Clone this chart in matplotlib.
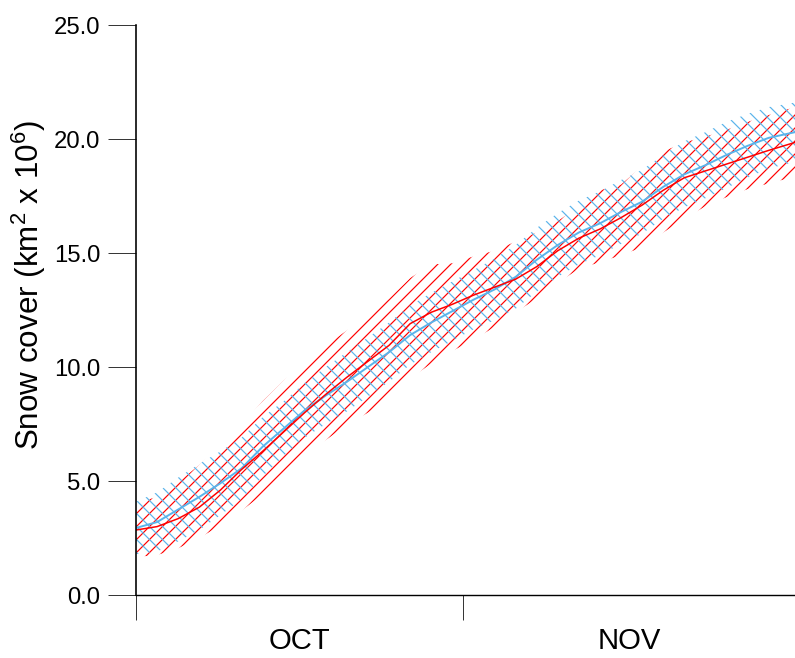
import matplotlib
matplotlib.use("Agg")
import matplotlib.pyplot as plt
import numpy as np

# ---- data ----
days = [0, 2, 4, 6, 8, 10, 12, 14, 16, 18, 20, 22, 24, 26, 28, 30,
        32, 34, 36, 38, 40, 42, 44, 46, 48, 50, 52, 54, 56, 58, 60, 62.5]

red_mean = [2.85, 3.0, 3.35, 3.85, 4.6, 5.5, 6.3, 7.15, 8.0, 8.8, 9.55, 10.25,
            10.95, 11.9, 12.4, 12.75, 13.15, 13.5, 13.85, 14.4, 15.1, 15.65,
            16.05, 16.55, 17.1, 17.75, 18.3, 18.6, 18.9, 19.2, 19.5, 19.85]
red_high = [4.04, 4.3, 4.95, 5.7, 6.55, 7.45, 8.5, 9.4, 10.2, 10.95, 11.6, 12.3,
            13.0, 13.9, 14.5, 14.55, 14.85, 15.1, 15.5, 15.9, 16.4, 17.05,
            17.75, 18.0, 18.8, 19.45, 19.85, 20.1, 20.4, 20.75, 21.05, 21.4]
red_low = [1.67, 1.75, 2.05, 2.5, 3.05, 3.7, 4.4, 5.3, 6.15, 6.8, 7.45, 8.0,
           8.6, 9.5, 10.15, 10.7, 11.2, 11.75, 12.4, 13.0, 13.7, 14.3,
           14.6, 14.9, 15.25, 15.9, 16.5, 17.05, 17.45, 17.8, 18.05, 18.35]

blue_mean = [2.94, 3.2, 3.75, 4.3, 4.9, 5.55, 6.5, 7.3, 8.1, 8.75, 9.35, 10.0,
             10.65, 11.4, 11.95, 12.45, 12.95, 13.4, 13.95, 14.7, 15.35, 15.9,
             16.3, 16.8, 17.25, 17.9, 18.45, 18.85, 19.3, 19.7, 20.05, 20.3]
blue_sd = [1.15, 1.3, 1.4, 1.45, 1.4, 1.35, 1.3, 1.2, 1.2, 1.25, 1.3, 1.3,
           1.3, 1.3, 1.3, 1.3, 1.3, 1.35, 1.4, 1.4, 1.4, 1.4, 1.4, 1.4,
           1.4, 1.4, 1.45, 1.45, 1.45, 1.4, 1.35, 1.3]

month_labels = ["OCT", "NOV"]
month_centers = [15.5, 46.8]
month_starts = [0, 31]
y_ticks = [0, 5, 10, 15, 20, 25]

RED = "#FF0000"
BLUE = "#5AB4EB"

DPI = 78
W, H = 795, 658
plt.rcParams["font.family"] = ["Liberation Sans", "DejaVu Sans"]
plt.rcParams["mathtext.fontset"] = "custom"
plt.rcParams["mathtext.rm"] = "Liberation Sans"
plt.rcParams["mathtext.it"] = "Liberation Sans"
plt.rcParams["hatch.linewidth"] = 1.1

fig = plt.figure(figsize=(W / DPI, H / DPI), dpi=DPI)
ax = fig.add_axes([136 / W, 63 / H, (W - 136) / W, 570 / H])

d = np.array(days)
bm = np.array(blue_mean)
bs = np.array(blue_sd)

ax.fill_between(d, red_low, red_high, facecolor="none", edgecolor=RED,
                hatch="//", linewidth=0, zorder=1)
ax.fill_between(d, bm - bs, bm + bs, facecolor="none", edgecolor=BLUE,
                hatch="\\\\", linewidth=0, zorder=1.5)
ax.plot(d, bm, color=BLUE, lw=1.8, zorder=2)
ax.plot(d, red_mean, color=RED, lw=1.4, zorder=2.5)

ax.set_xlim(0, 62.5)
ax.set_ylim(0, 25)

ax.spines["top"].set_visible(False)
ax.spines["right"].set_visible(False)
ax.spines["left"].set_linewidth(1.5)
ax.spines["bottom"].set_linewidth(1.3)

ax.set_yticks(y_ticks)
ax.set_yticklabels([f"{v:.1f}" for v in y_ticks])
ax.tick_params(axis="y", direction="out", length=28 * 72 / DPI, width=0.9,
               color="#333333", pad=8 * 72 / DPI, labelsize=22)

ax.set_xticks(month_starts)
ax.set_xticklabels([])
ax.set_xticks(month_centers, minor=True)
ax.set_xticklabels(month_labels, minor=True)
ax.tick_params(axis="x", which="major", direction="out",
               length=25 * 72 / DPI, width=0.9, color="#333333")
ax.tick_params(axis="x", which="minor", length=0, pad=32 * 72 / DPI,
               labelsize=27)

ax.set_ylabel(r"Snow cover (km$^2$ x 10$^6$)", fontsize=29)
ax.yaxis.set_label_coords(-0.133, 0.544)

fig.savefig("out.png", dpi=DPI)
